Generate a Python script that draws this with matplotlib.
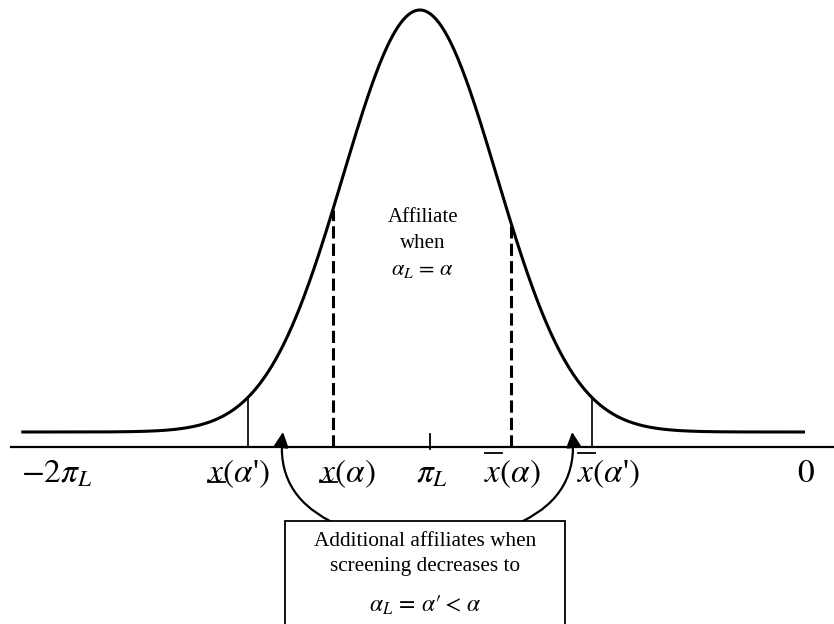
import numpy as np
import matplotlib
matplotlib.use("Agg")
import matplotlib.pyplot as plt
from matplotlib.patches import Rectangle, FancyArrowPatch

plt.rcParams["font.family"] = ["Liberation Serif", "DejaVu Serif"]
plt.rcParams["mathtext.fontset"] = "stix"

# x axis: -2*pi_L .. 0, with pi_L = -1 ; curve height is in arbitrary units
curve_mean = -1.027
curve_sd = 0.205
curve_base = 0.15
curve_peak = 4.22
curve_range = [-2.09, 0.0]

solid_cuts = [-1.485, -0.568]      # x(alpha'), xbar(alpha')
dashed_cuts = [-1.259, -0.784]     # x(alpha), xbar(alpha)

tick_pos = [-1.995, -1.51, -1.22, -0.995, -0.78, -0.525, 0.003]
tick_labels = [r"$-2\pi_L$", r"$x(\alpha$'$)$", r"$x(\alpha)$", r"$\pi_L$",
               r"$x(\alpha)$", r"$x(\alpha$'$)$", r"$0$"]
tick_marks = [None, "under", "under", None, "over", "over", None]


def bell(x):
    return curve_base + curve_peak * np.exp(-(x - curve_mean) ** 2 / (2 * curve_sd ** 2))


fig = plt.figure(figsize=(8.34, 6.24), dpi=100)
ax = fig.add_axes([0, 0, 1, 1])
ax.set_xlim(-2.1467, 0.0773)
ax.set_ylim(-1.77, 4.47)
ax.axis("off")

xs = np.linspace(curve_range[0], curve_range[1], 600)
ax.plot(xs, bell(xs), color="black", lw=2.2, solid_capstyle="butt")

# horizontal axis + tick at pi_L
ax.plot([-2.118, 0.0773], [0, 0], color="black", lw=1.6)
ax.plot([-1.0, -1.0], [-0.02, 0.13], color="black", lw=1.3)

for c in solid_cuts:
    ax.plot([c, c], [0, bell(c)], color="black", lw=1.2)
for c in dashed_cuts:
    ax.plot([c, c], [0, bell(c)], color="black", lw=2.2, dashes=(4, 1.7))

label_texts = []
for p, lab in zip(tick_pos, tick_labels):
    label_texts.append(ax.text(p, -0.27, lab, ha="center", va="center", fontsize=24))

# under/over bars on the x of the cutoff labels, measured from the rendered text
fig.canvas.draw()
renderer = fig.canvas.get_renderer()
xw = ax.text(0, 0, r"$x$", fontsize=24, alpha=0)
wx = xw.get_window_extent(renderer).width
inv = ax.transData.inverted()
for t, m in zip(label_texts, tick_marks):
    if m is None:
        continue
    bb = t.get_window_extent(renderer)
    yd = bb.y0 + 8 if m == "under" else bb.y1 + 5
    x0, y0 = inv.transform((bb.x0 + 1, yd))
    x1 = inv.transform((bb.x0 + wx, yd))[0]
    ax.plot([x0, x1], [y0, y0], color="black", lw=1.3)

ax.text(-1.019, 2.30, "Affiliate", ha="center", va="center", fontsize=15)
ax.text(-1.019, 2.04, "when", ha="center", va="center", fontsize=15)
ax.text(-1.019, 1.77, r"$\alpha_L\,=\,\alpha$", ha="center", va="center", fontsize=16)

box = Rectangle((-1.387, -1.9), 0.747, 1.16, facecolor="white",
                edgecolor="black", lw=1.3, zorder=3)
ax.add_patch(box)
ax.text(-1.013, -0.95, "Additional affiliates when", ha="center", va="center",
        fontsize=15.3, zorder=4)
ax.text(-1.013, -1.20, "screening decreases to", ha="center", va="center",
        fontsize=15.3, zorder=4)
ax.text(-1.013, -1.58, r"$\alpha_L\,=\,\alpha\prime<\,\alpha$", ha="center", va="center",
        fontsize=17, zorder=4)

arr_l = FancyArrowPatch((-1.267, -0.74), (-1.392, 0.15),
                        connectionstyle="arc3,rad=-0.35", arrowstyle="-|>,head_length=9,head_width=4.5",
                        color="black", lw=1.6, shrinkA=0, shrinkB=0)
arr_r = FancyArrowPatch((-0.752, -0.74), (-0.621, 0.15),
                        connectionstyle="arc3,rad=0.35", arrowstyle="-|>,head_length=9,head_width=4.5",
                        color="black", lw=1.6, shrinkA=0, shrinkB=0)
ax.add_patch(arr_l)
ax.add_patch(arr_r)

fig.savefig("out.png", dpi=100, facecolor="white")
